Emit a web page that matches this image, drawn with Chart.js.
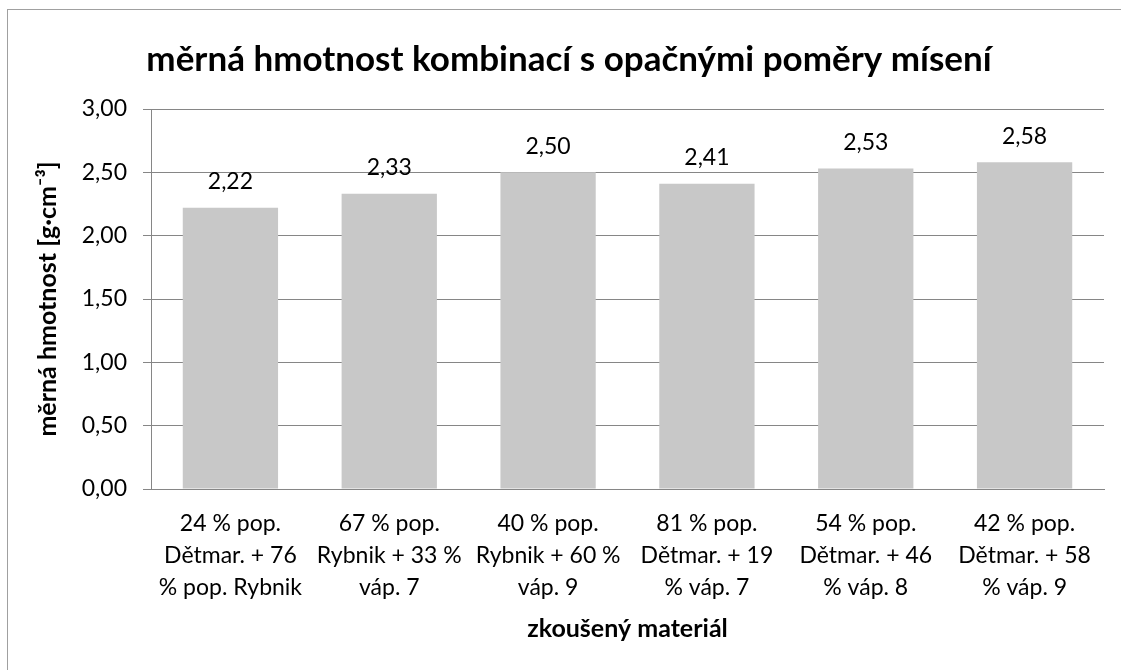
<!DOCTYPE html>
<html>
<head>
<meta charset="utf-8">
<script src="https://cdn.jsdelivr.net/npm/chart.js@4"></script>
<style>
  html, body { margin: 0; padding: 0; background: #fff; }
  #wrap { width: 1121px; height: 670px; }
</style>
</head>
<body>
<div id="wrap"><canvas id="densityChart" width="1121" height="670"></canvas></div>
<script>
const categories = [
  ['24 % pop.', 'Dětmar. + 76', '% pop. Rybnik'],
  ['67 % pop.', 'Rybnik + 33 %', 'váp. 7'],
  ['40 % pop.', 'Rybnik + 60 %', 'váp. 9'],
  ['81 % pop.', 'Dětmar. + 19', '% váp. 7'],
  ['54 % pop.', 'Dětmar. + 46', '% váp. 8'],
  ['42 % pop.', 'Dětmar. + 58', '% váp. 9']
];
const density = [2.22, 2.33, 2.50, 2.41, 2.53, 2.58];

const chartTitle = 'měrná hmotnost kombinací s opačnými poměry mísení';
const yTitle = 'měrná hmotnost [g·cm⁻³]';
const xTitle = 'zkoušený materiál';

const FONT = 'Lato';

function comma(v) {
  return Number(v).toFixed(2).replace('.', ',');
}

// frame around the chart like the excel chart area
const framePlugin = {
  id: 'frame',
  beforeDraw(chart) {
    const ctx = chart.ctx;
    ctx.save();
    ctx.fillStyle = '#fff';
    ctx.fillRect(0, 0, chart.width, chart.height);
    ctx.strokeStyle = '#a0a0a0';
    ctx.lineWidth = 1;
    ctx.strokeRect(7.5, 9.5, chart.width + 10, chart.height + 10);
    ctx.restore();
  }
};

// value labels above the bars
const valueLabels = {
  id: 'valueLabels',
  afterDatasetsDraw(chart) {
    const ctx = chart.ctx;
    ctx.save();
    ctx.font = '23px ' + FONT;
    ctx.fillStyle = '#000';
    ctx.textAlign = 'center';
    ctx.textBaseline = 'middle';
    chart.getDatasetMeta(0).data.forEach((bar, i) => {
      ctx.fillText(comma(density[i]), bar.x, bar.y - 26);
    });
    ctx.restore();
  }
};

const ctx = document.getElementById('densityChart');

new Chart(ctx, {
  type: 'bar',
  data: {
    labels: categories,
    datasets: [{
      label: 'měrná hmotnost',
      data: density,
      backgroundColor: '#c8c8c8',
      borderWidth: 0,
      categoryPercentage: 1,
      barPercentage: 0.6
    }]
  },
  options: {
    responsive: false,
    animation: false,
    devicePixelRatio: 1,
    layout: {
      padding: { left: 34, right: 17, top: 10, bottom: 10 }
    },
    plugins: {
      legend: { display: false },
      tooltip: { enabled: false },
      title: {
        display: true,
        text: chartTitle,
        color: '#000',
        font: { family: FONT, size: 35, weight: 'bold' },
        padding: { top: 29, bottom: 28 }
      }
    },
    scales: {
      y: {
        min: 0,
        max: 3,
        afterFit(scale) { scale.width = 117; },
        ticks: {
          stepSize: 0.5,
          color: '#000',
          padding: 16,
          font: { family: FONT, size: 23 },
          callback: (v) => comma(v)
        },
        grid: {
          color: '#868686',
          tickLength: 8,
          drawTicks: true
        },
        border: { display: true, color: '#868686' },
        title: {
          display: true,
          text: yTitle,
          color: '#000',
          font: { family: FONT, size: 25, weight: 'bold' },
          padding: { top: -1, bottom: 0 }
        }
      },
      x: {
        afterFit(scale) { scale.height = 171; },
        ticks: {
          color: '#000',
          padding: 18,
          maxRotation: 0,
          autoSkip: false,
          font: { family: FONT, size: 23, lineHeight: 1.4 }
        },
        grid: { display: false, drawTicks: false },
        border: { display: true, color: '#868686' },
        title: {
          display: true,
          text: xTitle,
          color: '#000',
          font: { family: FONT, size: 25, weight: 'bold' },
          padding: { top: 0, bottom: 16 }
        }
      }
    }
  },
  plugins: [framePlugin, valueLabels]
});
</script>
</body>
</html>
